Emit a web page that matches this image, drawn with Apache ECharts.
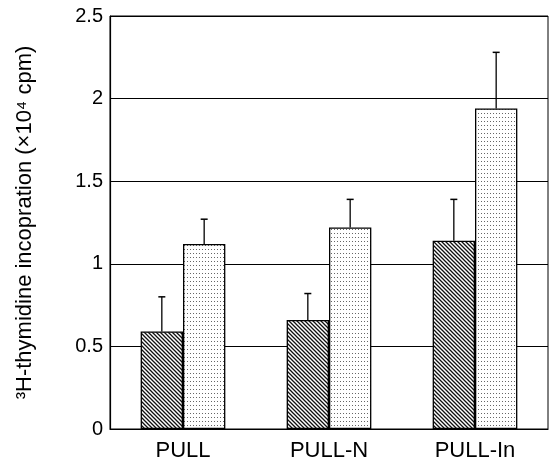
<!DOCTYPE html>
<html>
<head>
<meta charset="utf-8">
<script src="https://cdn.jsdelivr.net/npm/echarts@6/dist/echarts.min.js"></script>
<style>
  html,body{margin:0;padding:0;background:#fff;}
  #main{width:551px;height:468px;}
</style>
</head>
<body>
<div id="main"></div>
<script>
// data
const categories = ['PULL', 'PULL-N', 'PULL-In']
const hatchedVals = [0.59, 0.66, 1.14]
const hatchedErr = [0.21, 0.16, 0.25]
const dottedVals = [1.12, 1.22, 1.94]
const dottedErr = [0.15, 0.17, 0.34]
const yTicks = [0, 0.5, 1, 1.5, 2, 2.5]

function hatchPattern(){
  var c = document.createElement('canvas')
  c.width = 4; c.height = 4
  var ctx = c.getContext('2d')
  ctx.fillStyle = '#fff'
  ctx.fillRect(0,0,4,4)
  ctx.strokeStyle = '#111'
  ctx.lineWidth = 1.3
  ctx.beginPath()
  ctx.moveTo(-1,-1); ctx.lineTo(5,5)
  ctx.moveTo(-1,3); ctx.lineTo(1,5)
  ctx.moveTo(3,-1); ctx.lineTo(5,1)
  ctx.stroke()
  return c
}
function dotPattern(){
  var c = document.createElement('canvas')
  c.width = 3; c.height = 4
  var ctx = c.getContext('2d')
  ctx.fillStyle = '#fff'
  ctx.fillRect(0,0,3,4)
  ctx.fillStyle = '#666'
  ctx.fillRect(1,1,1,1)
  return c
}

var myChart = echarts.init(document.getElementById('main'), null, {renderer:'canvas'})

function errSeries(vals, errs, side){
  return {
    type:'custom',
    z:5,
    data: vals.map((v,i)=>[i, v, v+errs[i]]),
    renderItem:function(params, api){
      var band = api.size([1,0])[0]
      var bw = band*(1-0.42)/2
      var base = api.coord([api.value(0), api.value(1)])
      var top = api.coord([api.value(0), api.value(2)])
      var x = base[0] + side*bw/2
      return {
        type:'group',
        children:[
          {type:'line', shape:{x1:x,y1:base[1],x2:x,y2:top[1]}, style:{stroke:'#000',lineWidth:1.3}},
          {type:'line', shape:{x1:x-3.5,y1:top[1],x2:x+3.5,y2:top[1]}, style:{stroke:'#000',lineWidth:1.5}}
        ]
      }
    }
  }
}

myChart.setOption({
  animation:false,
  grid:{left:110, right:3, top:16, bottom:39, show:true, borderColor:'#000', borderWidth:1},
  xAxis:{
    type:'category',
    data:categories,
    axisLine:{lineStyle:{color:'#000',width:1.2}},
    axisTick:{inside:true, length:5, lineStyle:{color:'#000'}},
    axisLabel:{color:'#000', fontSize:22, fontFamily:'Liberation Sans', margin:11}
  },
  yAxis:{
    type:'value',
    min:0, max:2.5, interval:0.5,
    name:'³H-thymidine incopration (×10⁴ cpm)',
    nameLocation:'middle',
    nameGap:74,
    nameTextStyle:{color:'#000', fontSize:22, fontFamily:'Liberation Sans'},
    axisLine:{show:true, lineStyle:{color:'#000',width:1.2}},
    axisTick:{show:false},
    splitLine:{lineStyle:{color:'#000',width:1.2}},
    axisLabel:{color:'#000', fontSize:20, fontFamily:'Liberation Sans', margin:7,
      formatter:function(v){ return yTicks.indexOf(v) >= 0 ? String(v) : '' }}
  },
  series:[
    {type:'bar', data:hatchedVals, barGap:'0%', barCategoryGap:'42%',
      itemStyle:{color:{image:hatchPattern(), repeat:'repeat'}, borderColor:'#000', borderWidth:1.3}},
    {type:'bar', data:dottedVals,
      itemStyle:{color:{image:dotPattern(), repeat:'repeat'}, borderColor:'#000', borderWidth:1.3}},
    errSeries(hatchedVals, hatchedErr, -1),
    errSeries(dottedVals, dottedErr, 1)
  ]
})
</script>
</body>
</html>
